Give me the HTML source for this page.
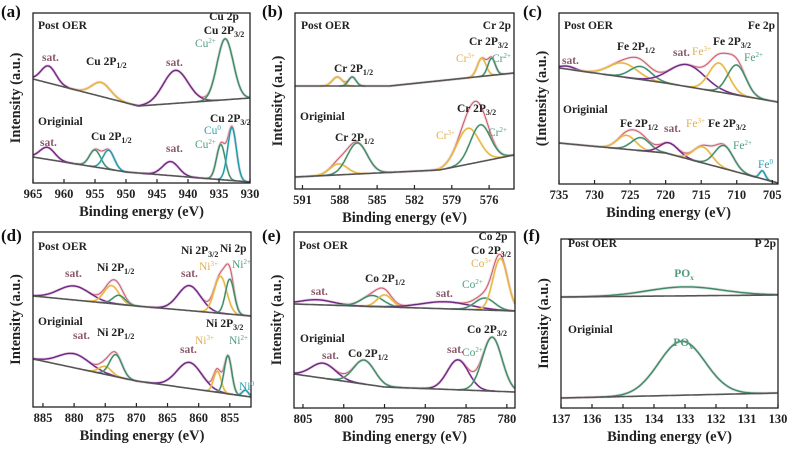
<!DOCTYPE html>
<html><head><meta charset="utf-8"><style>
html,body{margin:0;padding:0;background:#fff;}
svg{display:block;}
svg text{font-family:"Liberation Serif","Times New Roman","DejaVu Serif",serif;}
.t{font-family:"Liberation Serif","Times New Roman","DejaVu Serif",serif;font-weight:bold;font-size:11.5px;fill:#222;}
.tk{font-family:"Liberation Serif","Times New Roman","DejaVu Serif",serif;font-weight:bold;font-size:12.5px;fill:#222;}
.ax{font-family:"Liberation Serif","Times New Roman","DejaVu Serif",serif;font-weight:bold;font-size:14.5px;fill:#222;}
.pl{font-family:"Liberation Serif","Times New Roman","DejaVu Serif",serif;font-weight:bold;font-size:17px;fill:#111;}
.s{font-family:"Liberation Serif","Times New Roman","DejaVu Serif",serif;font-weight:bold;font-size:11.5px;fill:#8a5a6a;}
.cg{font-family:"Liberation Serif","Times New Roman","DejaVu Serif",serif;font-size:11.5px;fill:#4f9c7c;}
.cy{font-family:"Liberation Serif","Times New Roman","DejaVu Serif",serif;font-size:11.5px;fill:#e0b050;}
.ct{font-family:"Liberation Serif","Times New Roman","DejaVu Serif",serif;font-size:11.5px;fill:#2aa0b0;}
</style></head><body>
<svg id="fig" width="791" height="449" viewBox="0 0 791 449">
<g id="marks"></g>
<g id="labels">
<text class="pl" x="1" y="17">(a)</text>
<text class="pl" x="262" y="17">(b)</text>
<text class="pl" x="523" y="17">(c)</text>
<text class="pl" x="1" y="241">(d)</text>
<text class="pl" x="262" y="241">(e)</text>
<text class="pl" x="523" y="241">(f)</text>

<!-- a -->
<text class="t" x="38" y="29">Post OER</text>
<text class="t" x="224" y="20" text-anchor="middle">Cu 2p</text>
<text class="t" x="224" y="34" text-anchor="middle">Cu 2P<tspan font-size="8" dy="3">3/2</tspan></text>
<text class="cg" x="195" y="47">Cu<tspan font-size="7" dy="-4">2+</tspan></text>
<text class="s" x="42" y="61">sat.</text>
<text class="t" x="86" y="65">Cu 2P<tspan font-size="8" dy="3">1/2</tspan></text>
<text class="s" x="166" y="66">sat.</text>
<text class="t" x="38" y="125">Originial</text>
<text class="t" x="91" y="140">Cu 2P<tspan font-size="8" dy="3">1/2</tspan></text>
<text class="s" x="40" y="146">sat.</text>
<text class="s" x="166" y="152">sat.</text>
<text class="t" x="210" y="122">Cu 2P<tspan font-size="8" dy="3">3/2</tspan></text>
<text class="ct" x="204" y="134">Cu<tspan font-size="7" dy="-4">0</tspan></text>
<text class="cg" x="195" y="148">Cu<tspan font-size="7" dy="-4">2+</tspan></text>

<!-- b -->
<text class="t" x="301" y="29">Post OER</text>
<text class="t" x="511" y="29" text-anchor="end">Cr 2p</text>
<text class="t" x="469" y="45">Cr 2P<tspan font-size="8" dy="3">3/2</tspan></text>
<text class="cy" x="456" y="62">Cr<tspan font-size="7" dy="-4">3+</tspan></text>
<text class="cg" x="492" y="62">Cr<tspan font-size="7" dy="-4">2+</tspan></text>
<text class="t" x="334" y="72">Cr 2P<tspan font-size="8" dy="3">1/2</tspan></text>
<text class="t" x="300" y="120">Originial</text>
<text class="t" x="457" y="112">Cr 2P<tspan font-size="8" dy="3">3/2</tspan></text>
<text class="t" x="335" y="141">Cr 2P<tspan font-size="8" dy="3">1/2</tspan></text>
<text class="cy" x="436" y="139">Cr<tspan font-size="7" dy="-4">3+</tspan></text>
<text class="cg" x="488" y="136">Cr<tspan font-size="7" dy="-4">2+</tspan></text>

<!-- c -->
<text class="t" x="564" y="29">Post OER</text>
<text class="t" x="775" y="29" text-anchor="end">Fe 2p</text>
<text class="t" x="617" y="50">Fe 2P<tspan font-size="8" dy="3">1/2</tspan></text>
<text class="s" x="673" y="56">sat.</text>
<text class="cy" x="692" y="55">Fe<tspan font-size="7" dy="-4">3+</tspan></text>
<text class="t" x="713" y="45">Fe 2P<tspan font-size="8" dy="3">3/2</tspan></text>
<text class="cg" x="744" y="61">Fe<tspan font-size="7" dy="-4">2+</tspan></text>
<text class="s" x="562" y="64">sat.</text>
<text class="t" x="563" y="113">Originial</text>
<text class="t" x="620" y="127">Fe 2P<tspan font-size="8" dy="3">1/2</tspan></text>
<text class="s" x="664" y="132">sat.</text>
<text class="cy" x="686" y="127">Fe<tspan font-size="7" dy="-4">3+</tspan></text>
<text class="t" x="708" y="127">Fe 2P<tspan font-size="8" dy="3">3/2</tspan></text>
<text class="cg" x="733" y="149">Fe<tspan font-size="7" dy="-4">2+</tspan></text>
<text class="ct" x="758" y="168">Fe<tspan font-size="7" dy="-4">0</tspan></text>

<!-- d -->
<text class="t" x="38" y="250">Post OER</text>
<text class="t" x="220" y="252">Ni 2p</text>
<text class="t" x="181" y="254">Ni 2P<tspan font-size="8" dy="3">3/2</tspan></text>
<text class="cg" x="232" y="268">Ni<tspan font-size="7" dy="-4">2+</tspan></text>
<text class="cy" x="199" y="270">Ni<tspan font-size="7" dy="-4">3+</tspan></text>
<text class="t" x="97" y="271">Ni 2P<tspan font-size="8" dy="3">1/2</tspan></text>
<text class="s" x="65" y="277">sat.</text>
<text class="s" x="181" y="277">sat.</text>
<text class="t" x="38" y="325">Originial</text>
<text class="s" x="73" y="339">sat.</text>
<text class="t" x="97" y="336">Ni 2P<tspan font-size="8" dy="3">1/2</tspan></text>
<text class="t" x="206" y="327">Ni 2P<tspan font-size="8" dy="3">3/2</tspan></text>
<text class="cy" x="195" y="344">Ni<tspan font-size="7" dy="-4">3+</tspan></text>
<text class="cg" x="229" y="344">Ni<tspan font-size="7" dy="-4">2+</tspan></text>
<text class="s" x="180" y="353">sat.</text>
<text class="ct" x="239" y="390">Ni<tspan font-size="7" dy="-4">0</tspan></text>

<!-- e -->
<text class="t" x="299" y="249">Post OER</text>
<text class="t" x="493" y="240" text-anchor="middle">Co 2p</text>
<text class="t" x="491" y="254" text-anchor="middle">Co 2P<tspan font-size="8" dy="3">3/2</tspan></text>
<text class="cy" x="471" y="267">Co<tspan font-size="7" dy="-4">3+</tspan></text>
<text class="cg" x="462" y="288">Co<tspan font-size="7" dy="-4">2+</tspan></text>
<text class="t" x="365" y="282">Co 2P<tspan font-size="8" dy="3">1/2</tspan></text>
<text class="s" x="311" y="295">sat.</text>
<text class="s" x="436" y="297">sat.</text>
<text class="t" x="300" y="342">Originial</text>
<text class="t" x="487" y="333" text-anchor="middle">Co 2P<tspan font-size="8" dy="3">3/2</tspan></text>
<text class="cg" x="462" y="356">Co<tspan font-size="7" dy="-4">2+</tspan></text>
<text class="t" x="348" y="357">Co 2P<tspan font-size="8" dy="3">1/2</tspan></text>
<text class="s" x="322" y="359">sat.</text>
<text class="s" x="447" y="353">sat.</text>

<!-- f -->
<text class="t" x="568" y="247">Post OER</text>
<text class="t" x="776" y="247" text-anchor="end">P 2p</text>
<text class="cg" x="684" y="277" text-anchor="middle" font-weight="bold">PO<tspan font-size="7" dy="3">x</tspan></text>
<text class="t" x="568" y="333">Originial</text>
<text class="cg" x="683" y="346" text-anchor="middle" font-weight="bold">PO<tspan font-size="7" dy="3">x</tspan></text>
</g>
</svg>
<script>
// ---- data (energies in eV; intensities in arbitrary units above plot bottom) ----
const panelIds = ['a','b','c','d','e','f'];
const domainA=[965,930], domainB=[591.6,574], domainC=[735,704.2], domainD=[886.6,851.6], domainE=[806.1,779], domainF=[137,130];
const ticksA=[965,960,955,950,945,940,935,930];
const ticksB=[591,588,585,582,579,576];
const ticksC=[735,730,725,720,715,710,705];
const ticksD=[885,880,875,870,865,860,855];
const ticksE=[805,800,795,790,785,780];
const ticksF=[137,136,135,134,133,132,131,130];
// baselines: [energy, intensity]
const blA_post=[[965,104],[948,77],[930,85]], blA_orig=[[965,26],[950,11],[930,1]];
const blB_post=[[591.6,103],[584,103],[574,116]], blB_orig=[[591.6,12],[580,19],[574,34]];
const blC_post=[[735,116],[720,101],[704.2,82]], blC_orig=[[735,41],[720,31],[704.2,1]];
const blD_post=[[886.6,111],[870,101],[851.6,91]], blD_orig=[[886.6,48],[870,26],[851.6,10]];
const blE_post=[[806.1,104],[779,97]], blE_orig=[[806.1,34],[795,21],[779,16]];
const blF_post=[[137,111],[130,113]], blF_orig=[[137,10],[130,15]];
// peaks: [center eV, height, sigma, type]
const pkA_post=[[962.5,17,1.2,'sat'],[954,14,1.5,'gold'],[942,33,2.0,'sat'],[934,61,1.3,'green']];
const pkA_orig=[[962.7,12,1.2,'sat'],[955,17,0.9,'green'],[952.8,19,0.9,'teal'],[942.8,14,1.3,'sat'],[934.7,35,0.7,'green'],[932.9,53,0.7,'teal']];
const pkB_post=[[588.2,9,0.4,'gold'],[587,9,0.3,'green'],[576.6,18,0.35,'gold'],[575.8,17,0.3,'green']];
const pkB_orig=[[588.1,11,0.7,'gold'],[586.6,31,0.8,'green'],[577.7,36,0.9,'gold'],[576.7,37,0.8,'green']];
const pkC_post=[[733.8,3,1,'sat'],[726,14,2,'gold'],[723.5,13,1.5,'green'],[717,22,2.5,'sat'],[712.5,29,1.4,'gold'],[710,30,1.3,'green']];
const pkC_orig=[[725.5,14,1.3,'gold'],[723.5,13,1.3,'green'],[719.5,11,1.3,'sat'],[714.8,16,1.3,'gold'],[711.8,23,1.3,'green'],[706.4,8,0.4,'teal']];
const pkD_post=[[880,14,2.5,'sat'],[874,18,1.2,'gold'],[872.8,9,1,'green'],[861.5,25,1.8,'sat'],[856.5,37,1,'gold'],[855,35,0.7,'green']];
const pkD_orig=[[880,14,2.5,'sat'],[875,8,1,'gold'],[873.3,22,1,'green'],[861.5,26,2,'sat'],[857,21,0.6,'gold'],[855.3,38,0.6,'green'],[852.5,6,0.5,'teal']];
const pkE_post=[[803.3,5,2,'sat'],[796.5,11,1.3,'green'],[795,12,0.9,'gold'],[787.5,7,3,'sat'],[782.7,12,1.2,'green'],[780.8,52,0.9,'gold']];
const pkE_orig=[[802.5,15,1.5,'sat'],[797.5,24,1.3,'green'],[786,30,1.3,'sat'],[781.8,54,1.2,'green']];
const pkF_post=[[133,9,1.2,'green']];
const pkF_orig=[[133.1,54,0.75,'green']];

// ---- layout ----
const boxes={a:[33,13,250,183],b:[295,13,514,189],c:[559,13,778,184],d:[33,232,251,407],e:[294,232,515,408],f:[561,239,778,408]};
const cfg={
 a:{dom:domainA,ticks:ticksA,series:[[blA_post,pkA_post],[blA_orig,pkA_orig]],ytitle:'Intensity (a.u.)'},
 b:{dom:domainB,ticks:ticksB,series:[[blB_post,pkB_post],[blB_orig,pkB_orig]],ytitle:'Intensity (a.u.)'},
 c:{dom:domainC,ticks:ticksC,series:[[blC_post,pkC_post],[blC_orig,pkC_orig]],ytitle:'(Intensity (a.u.)'},
 d:{dom:domainD,ticks:ticksD,series:[[blD_post,pkD_post],[blD_orig,pkD_orig]],ytitle:'Intensity (a.u.)'},
 e:{dom:domainE,ticks:ticksE,series:[[blE_post,pkE_post],[blE_orig,pkE_orig]],ytitle:'Intensity (a.u.)'},
 f:{dom:domainF,ticks:ticksF,series:[[blF_post,pkF_post],[blF_orig,pkF_orig]],ytitle:'Intensity (a.u.)'}
};
const colors={sat:'#6a2a80',gold:'#e8b440',green:'#3f8a68',teal:'#1f9aa8'};
const halo={sat:'#e9a6e6',gold:'#f5dc9a',green:'#b9dcc8',teal:'#a8dde2'};
const NS='http://www.w3.org/2000/svg';
const layer=document.getElementById('marks');
function mk(tag,attrs,parent){const e=document.createElementNS(NS,tag);for(const k in attrs)e.setAttribute(k,attrs[k]);(parent||layer).appendChild(e);return e;}
function blAt(bl,E){for(let i=0;i<bl.length-1;i++){const a=bl[i],b=bl[i+1];const lo=Math.min(a[0],b[0]),hi=Math.max(a[0],b[0]);if(E>=lo&&E<=hi){return a[1]+(b[1]-a[1])*(E-a[0])/(b[0]-a[0]);}}return E>bl[0][0]?bl[0][1]:bl[bl.length-1][1];}
function g(p,E){return p[1]*Math.exp(-0.5*Math.pow((E-p[0])/p[2],2));}

panelIds.forEach(id=>{
 const [x0,y0,x1,y1]=boxes[id];const c=cfg[id];
 const xs=E=>x0+(c.dom[0]-E)/(c.dom[0]-c.dom[1])*(x1-x0);
 const ys=v=>y1-v;
 const grp=mk('g',{});
 
 
 const clip=mk('clipPath',{id:'clip'+id},grp);mk('rect',{x:x0,y:y0,width:x1-x0,height:y1-y0},clip);
 const pg=mk('g',{'clip-path':'url(#clip'+id+')'},grp);
 const N=300;
 c.series.forEach((s,si)=>{
  const [bl,pk]=s;
  const sname=si===0?'post-oer':'original';
  const Es=[];for(let i=0;i<=N;i++)Es.push(c.dom[0]-(c.dom[0]-c.dom[1])*i/N);
  let env=Es.map(E=>{let v=blAt(bl,E);pk.forEach(p=>v+=g(p,E));return [xs(E),ys(v)];});
  const envD='M'+env.map(p=>p[0].toFixed(1)+','+p[1].toFixed(1)).join('L');
  const h=mk('path',{d:envD,fill:'none',stroke:'#d9c6d2',"stroke-width":3,"stroke-opacity":0.5},pg);
  
  
  const en=mk('path',{d:envD,fill:'none',stroke:'#d23a48',"stroke-width":1.1,"stroke-opacity":0.8},pg);
  
  
  pk.forEach((p,pi)=>{
   const pts=[];const lo=p[0]+3.5*p[2],hi=p[0]-3.5*p[2];
   for(let i=0;i<=80;i++){const E=lo-(lo-hi)*i/80;pts.push([xs(E),ys(blAt(bl,E)+g(p,E))]);}
   const d='M'+pts.map(q=>q[0].toFixed(1)+','+q[1].toFixed(1)).join('L');
   const hh=mk('path',{d:d,fill:'none',stroke:halo[p[3]],"stroke-width":2.6,"stroke-opacity":0.45},pg);
   
   
   const e=mk('path',{d:d,fill:'none',stroke:colors[p[3]],"stroke-width":1.4},pg);
   
   
  });
  const bd='M'+Es.map(E=>xs(E).toFixed(1)+','+ys(blAt(bl,E)).toFixed(1)).join('L');
  const b=mk('path',{d:bd,fill:'none',stroke:'#555',"stroke-width":1.6},pg);
  
  
 });
 const fr=mk('rect',{x:x0,y:y0,width:x1-x0,height:y1-y0,fill:'none',stroke:'#222',"stroke-width":1.3},grp);
 
 
 c.ticks.forEach(t=>{
  const X=xs(t);
  const tk=mk('line',{x1:X,x2:X,y1:y1,y2:y1-4,stroke:'#222',"stroke-width":1.2},grp);
  
  
  const tl=mk('text',{x:X,y:y1+15,'text-anchor':'middle','class':'tk'},grp);
  tl.textContent=String(t);
  
  
 });
 const xt=mk('text',{x:(x0+x1)/2,y:y1+33,'text-anchor':'middle','class':'ax'},grp);
 xt.textContent='Binding energy (eV)';
 
 
 const cx=x0-13,cy=(y0+y1)/2;
 const yt=mk('text',{x:cx,y:cy,'text-anchor':'middle','class':'ax',transform:'rotate(-90 '+cx+' '+cy+')'},grp);
 yt.textContent=c.ytitle;
 
 
});
</script>
</body></html>
